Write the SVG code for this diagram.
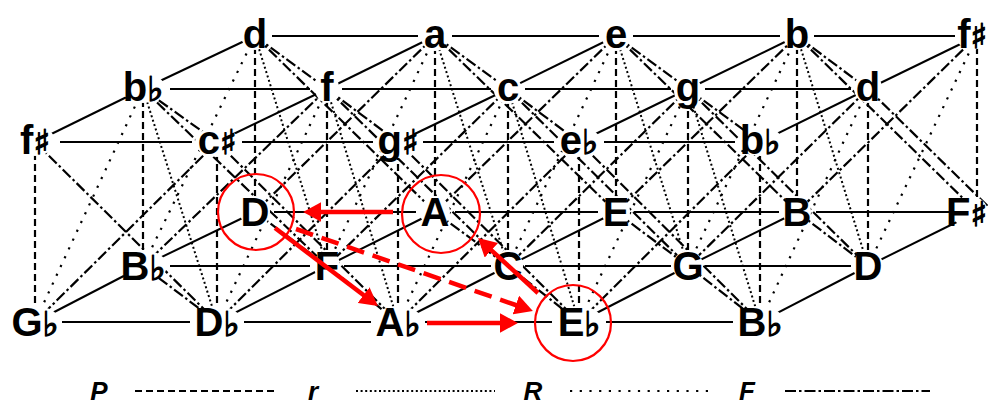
<svg xmlns="http://www.w3.org/2000/svg" width="988" height="406" viewBox="0 0 988 406">
<defs>
<style>
line{stroke:#000;fill:none;stroke-width:2}
.s{stroke-width:2}
.f{stroke-dasharray:11 3 2.5 3;stroke-width:2.2}
.p{stroke-dasharray:7 4;stroke-width:2.2}
.r{stroke-dasharray:2 2.6;stroke-width:2}
.R{stroke-dasharray:2.2 7.5;stroke-width:2.2}
.bg{fill:#fff}
.lab{font-family:"Liberation Sans","DejaVu Sans",sans-serif;font-weight:bold;font-size:40px;text-anchor:middle;fill:#000}
.end{text-anchor:end}
.acc{font-family:"DejaVu Sans",sans-serif;font-weight:bold;font-size:34px;fill:#000;stroke:#000;stroke-width:1.3}
.leg{font-family:"Liberation Sans","DejaVu Sans",sans-serif;font-weight:bold;font-style:italic;font-size:26px;text-anchor:middle;fill:#000}
line.ra{stroke:#f00;stroke-width:4.5;fill:none}
line.rd{stroke-dasharray:18 9}
.circ{stroke:#f00;fill:none;stroke-width:2.2}
</style>
<marker id="ah" markerWidth="4" markerHeight="4.4" refX="1.8" refY="2.2" orient="auto" markerUnits="strokeWidth">
<path d="M0,0 L4,2.2 L0,4.4 z" fill="#f00"/>
</marker>
</defs>
<rect width="988" height="406" fill="#fff"/>
<g id="connectors">
<g id="horizontal">
<line class="s" x1="272" y1="36" x2="418" y2="36"/>
<line class="s" x1="452" y1="36" x2="599" y2="36"/>
<line class="s" x1="633" y1="36" x2="780" y2="36"/>
<line class="s" x1="814" y1="36" x2="955" y2="36"/>
<line class="s" x1="170" y1="89" x2="310" y2="89"/>
<line class="s" x1="342" y1="89" x2="491" y2="89"/>
<line class="s" x1="525" y1="89" x2="671" y2="89"/>
<line class="s" x1="705" y1="89" x2="851" y2="89"/>
<line class="s" x1="60" y1="142" x2="192" y2="142"/>
<line class="s" x1="242" y1="142" x2="373" y2="142"/>
<line class="s" x1="423" y1="142" x2="554" y2="142"/>
<line class="s" x1="604" y1="142" x2="735" y2="142"/>
<line class="s" x1="274" y1="212" x2="416" y2="212"/>
<line class="s" x1="455" y1="212" x2="598" y2="212"/>
<line class="s" x1="634" y1="212" x2="779" y2="212"/>
<line class="s" x1="816" y1="212" x2="955" y2="212"/>
<line class="s" x1="170" y1="266" x2="310" y2="266"/>
<line class="s" x1="344" y1="266" x2="491" y2="266"/>
<line class="s" x1="525" y1="266" x2="671" y2="266"/>
<line class="s" x1="705" y1="266" x2="851" y2="266"/>
<line class="s" x1="62" y1="322" x2="190" y2="322"/>
<line class="s" x1="244" y1="322" x2="371" y2="322"/>
<line class="s" x1="425" y1="322" x2="552" y2="322"/>
<line class="s" x1="606" y1="322" x2="733" y2="322"/>
</g>
<g id="major-thirds">
<line class="s" x1="143" y1="89" x2="255" y2="36"/>
<line class="s" x1="327" y1="89" x2="435" y2="36"/>
<line class="s" x1="508" y1="89" x2="616" y2="36"/>
<line class="s" x1="688" y1="89" x2="797" y2="36"/>
<line class="s" x1="868" y1="89" x2="977" y2="36"/>
<line class="s" x1="35" y1="142" x2="143" y2="89"/>
<line class="s" x1="217" y1="142" x2="327" y2="89"/>
<line class="s" x1="398" y1="142" x2="508" y2="89"/>
<line class="s" x1="579" y1="142" x2="688" y2="89"/>
<line class="s" x1="760" y1="142" x2="868" y2="89"/>
<line class="s" x1="143" y1="266" x2="255" y2="212"/>
<line class="s" x1="327" y1="266" x2="435" y2="212"/>
<line class="s" x1="508" y1="266" x2="616" y2="212"/>
<line class="s" x1="688" y1="266" x2="797" y2="212"/>
<line class="s" x1="868" y1="266" x2="977" y2="212"/>
<line class="s" x1="35" y1="322" x2="143" y2="266"/>
<line class="s" x1="217" y1="322" x2="327" y2="266"/>
<line class="s" x1="398" y1="322" x2="508" y2="266"/>
<line class="s" x1="579" y1="322" x2="688" y2="266"/>
<line class="s" x1="760" y1="322" x2="868" y2="266"/>
</g>
<g id="minor-thirds">
<line class="f" x1="255" y1="36" x2="327" y2="89"/>
<line class="f" x1="435" y1="36" x2="508" y2="89"/>
<line class="f" x1="616" y1="36" x2="688" y2="89"/>
<line class="f" x1="797" y1="36" x2="868" y2="89"/>
<line class="f" x1="143" y1="89" x2="217" y2="142"/>
<line class="f" x1="327" y1="89" x2="398" y2="142"/>
<line class="f" x1="508" y1="89" x2="579" y2="142"/>
<line class="f" x1="688" y1="89" x2="760" y2="142"/>
<line class="f" x1="255" y1="212" x2="327" y2="266"/>
<line class="f" x1="435" y1="212" x2="508" y2="266"/>
<line class="f" x1="616" y1="212" x2="688" y2="266"/>
<line class="f" x1="797" y1="212" x2="868" y2="266"/>
<line class="f" x1="143" y1="266" x2="217" y2="322"/>
<line class="f" x1="327" y1="266" x2="398" y2="322"/>
<line class="f" x1="508" y1="266" x2="579" y2="322"/>
<line class="f" x1="688" y1="266" x2="760" y2="322"/>
</g>
<g id="F-relations">
<line class="f" x1="255" y1="36" x2="435" y2="212"/>
<line class="f" x1="435" y1="36" x2="255" y2="212"/>
<line class="f" x1="435" y1="36" x2="616" y2="212"/>
<line class="f" x1="616" y1="36" x2="435" y2="212"/>
<line class="f" x1="616" y1="36" x2="797" y2="212"/>
<line class="f" x1="797" y1="36" x2="616" y2="212"/>
<line class="f" x1="797" y1="36" x2="977" y2="212"/>
<line class="f" x1="977" y1="36" x2="797" y2="212"/>
<line class="f" x1="143" y1="89" x2="327" y2="266"/>
<line class="f" x1="327" y1="89" x2="143" y2="266"/>
<line class="f" x1="327" y1="89" x2="508" y2="266"/>
<line class="f" x1="508" y1="89" x2="327" y2="266"/>
<line class="f" x1="508" y1="89" x2="688" y2="266"/>
<line class="f" x1="688" y1="89" x2="508" y2="266"/>
<line class="f" x1="688" y1="89" x2="868" y2="266"/>
<line class="f" x1="868" y1="89" x2="688" y2="266"/>
<line class="f" x1="868" y1="89" x2="1049" y2="266"/>
<line class="f" x1="35" y1="142" x2="217" y2="322"/>
<line class="f" x1="217" y1="142" x2="35" y2="322"/>
<line class="f" x1="217" y1="142" x2="398" y2="322"/>
<line class="f" x1="398" y1="142" x2="217" y2="322"/>
<line class="f" x1="398" y1="142" x2="579" y2="322"/>
<line class="f" x1="579" y1="142" x2="398" y2="322"/>
<line class="f" x1="579" y1="142" x2="760" y2="322"/>
<line class="f" x1="760" y1="142" x2="579" y2="322"/>
</g>
<g id="P-relations">
<line class="p" x1="255" y1="36" x2="255" y2="212"/>
<line class="p" x1="435" y1="36" x2="435" y2="212"/>
<line class="p" x1="616" y1="36" x2="616" y2="212"/>
<line class="p" x1="797" y1="36" x2="797" y2="212"/>
<line class="p" x1="977" y1="36" x2="977" y2="212"/>
<line class="p" x1="143" y1="89" x2="143" y2="266"/>
<line class="p" x1="327" y1="89" x2="327" y2="266"/>
<line class="p" x1="508" y1="89" x2="508" y2="266"/>
<line class="p" x1="688" y1="89" x2="688" y2="266"/>
<line class="p" x1="868" y1="89" x2="868" y2="266"/>
<line class="p" x1="35" y1="142" x2="35" y2="322"/>
<line class="p" x1="217" y1="142" x2="217" y2="322"/>
<line class="p" x1="398" y1="142" x2="398" y2="322"/>
<line class="p" x1="579" y1="142" x2="579" y2="322"/>
<line class="p" x1="760" y1="142" x2="760" y2="322"/>
</g>
<g id="r-relations">
<line class="r" x1="255" y1="36" x2="327" y2="266"/>
<line class="r" x1="435" y1="36" x2="508" y2="266"/>
<line class="r" x1="616" y1="36" x2="688" y2="266"/>
<line class="r" x1="797" y1="36" x2="868" y2="266"/>
<line class="r" x1="143" y1="89" x2="217" y2="322"/>
<line class="r" x1="327" y1="89" x2="398" y2="322"/>
<line class="r" x1="508" y1="89" x2="579" y2="322"/>
<line class="r" x1="688" y1="89" x2="760" y2="322"/>
</g>
<g id="R-relations">
<line class="R" x1="255" y1="36" x2="143" y2="266"/>
<line class="R" x1="435" y1="36" x2="327" y2="266"/>
<line class="R" x1="616" y1="36" x2="508" y2="266"/>
<line class="R" x1="797" y1="36" x2="688" y2="266"/>
<line class="R" x1="977" y1="36" x2="868" y2="266"/>
<line class="R" x1="143" y1="89" x2="35" y2="322"/>
<line class="R" x1="327" y1="89" x2="217" y2="322"/>
<line class="R" x1="508" y1="89" x2="398" y2="322"/>
<line class="R" x1="688" y1="89" x2="579" y2="322"/>
<line class="R" x1="868" y1="89" x2="760" y2="322"/>
</g>
</g>
<g id="nodes">
<g id="n-d1"><ellipse class="bg" cx="255" cy="35" rx="14" ry="15"/><text class="lab" x="255" y="48">d</text></g>
<g id="n-a1"><ellipse class="bg" cx="435" cy="37" rx="14" ry="14"/><text class="lab" x="435" y="48">a</text></g>
<g id="n-e1"><ellipse class="bg" cx="616" cy="37" rx="14" ry="14"/><text class="lab" x="616" y="48">e</text></g>
<g id="n-b1"><ellipse class="bg" cx="797" cy="35" rx="14" ry="15"/><text class="lab" x="797" y="48">b</text></g>
<g id="n-fs1"><ellipse class="bg" cx="972" cy="35" rx="16" ry="15"/><text class="lab end" x="987" y="48">f<tspan class="acc">♯</tspan></text></g>
<g id="n-bb2"><ellipse class="bg" cx="143" cy="88" rx="22" ry="15"/><text class="lab" x="143" y="101">b<tspan class="acc">♭</tspan></text></g>
<g id="n-f2"><ellipse class="bg" cx="327" cy="88" rx="12" ry="15"/><text class="lab" x="327" y="101">f</text></g>
<g id="n-c2"><ellipse class="bg" cx="508" cy="90" rx="14" ry="14"/><text class="lab" x="508" y="101">c</text></g>
<g id="n-g2"><ellipse class="bg" cx="688" cy="91" rx="14" ry="15"/><text class="lab" x="688" y="101">g</text></g>
<g id="n-d2"><ellipse class="bg" cx="868" cy="88" rx="14" ry="15"/><text class="lab" x="868" y="101">d</text></g>
<g id="n-fs3"><ellipse class="bg" cx="35" cy="141" rx="20" ry="15"/><text class="lab" x="35" y="154">f<tspan class="acc">♯</tspan></text></g>
<g id="n-cs3"><ellipse class="bg" cx="217" cy="142" rx="22" ry="15"/><text class="lab" x="217" y="154">c<tspan class="acc">♯</tspan></text></g>
<g id="n-gs3"><ellipse class="bg" cx="398" cy="143" rx="22" ry="15"/><text class="lab" x="398" y="154">g<tspan class="acc">♯</tspan></text></g>
<g id="n-eb3"><ellipse class="bg" cx="579" cy="142" rx="22" ry="15"/><text class="lab" x="579" y="154">e<tspan class="acc">♭</tspan></text></g>
<g id="n-bb3"><ellipse class="bg" cx="760" cy="141" rx="22" ry="15"/><text class="lab" x="760" y="154">b<tspan class="acc">♭</tspan></text></g>
<g id="n-D4"><ellipse class="bg" cx="255" cy="212" rx="15" ry="16"/><text class="lab" x="255" y="226">D</text></g>
<g id="n-A4"><ellipse class="bg" cx="435" cy="212" rx="15" ry="16"/><text class="lab" x="435" y="226">A</text></g>
<g id="n-E4"><ellipse class="bg" cx="616" cy="212" rx="14" ry="16"/><text class="lab" x="616" y="226">E</text></g>
<g id="n-B4"><ellipse class="bg" cx="797" cy="212" rx="14" ry="16"/><text class="lab" x="797" y="226">B</text></g>
<g id="n-Fs4"><ellipse class="bg" cx="970" cy="212" rx="18" ry="16"/><text class="lab end" x="987" y="226">F<tspan class="acc">♯</tspan></text></g>
<g id="n-Bb5"><ellipse class="bg" cx="143" cy="266" rx="24" ry="16"/><text class="lab" x="143" y="280">B<tspan class="acc">♭</tspan></text></g>
<g id="n-F5"><ellipse class="bg" cx="327" cy="266" rx="13" ry="16"/><text class="lab" x="327" y="280">F</text></g>
<g id="n-C5"><ellipse class="bg" cx="508" cy="266" rx="15" ry="16"/><text class="lab" x="508" y="280">C</text></g>
<g id="n-G5"><ellipse class="bg" cx="688" cy="266" rx="15" ry="16"/><text class="lab" x="688" y="280">G</text></g>
<g id="n-D5"><ellipse class="bg" cx="868" cy="266" rx="15" ry="16"/><text class="lab" x="868" y="280">D</text></g>
<g id="n-Gb6"><ellipse class="bg" cx="35" cy="322" rx="25" ry="16"/><text class="lab" x="35" y="336">G<tspan class="acc">♭</tspan></text></g>
<g id="n-Db6"><ellipse class="bg" cx="217" cy="322" rx="25" ry="16"/><text class="lab" x="217" y="336">D<tspan class="acc">♭</tspan></text></g>
<g id="n-Ab6"><ellipse class="bg" cx="398" cy="322" rx="25" ry="16"/><text class="lab" x="398" y="336">A<tspan class="acc">♭</tspan></text></g>
<g id="n-Eb6"><ellipse class="bg" cx="579" cy="322" rx="24" ry="16"/><text class="lab" x="579" y="336">E<tspan class="acc">♭</tspan></text></g>
<g id="n-Bb6"><ellipse class="bg" cx="760" cy="322" rx="24" ry="16"/><text class="lab" x="760" y="336">B<tspan class="acc">♭</tspan></text></g>
</g>
<g id="highlights">
<circle class="circ" cx="256" cy="212" r="38"/>
<circle class="circ" cx="441" cy="214" r="39"/>
<circle class="circ" cx="573" cy="323" r="38"/>
<line class="ra" x1="393" y1="212" x2="313" y2="212" marker-end="url(#ah)"/>
<line class="ra" x1="275" y1="228" x2="370" y2="300" marker-end="url(#ah)"/>
<line class="ra rd" x1="296" y1="229" x2="523.5" y2="307.7" marker-end="url(#ah)"/>
<line class="ra" x1="427" y1="323" x2="508" y2="323" marker-end="url(#ah)"/>
<line class="ra" x1="538" y1="293" x2="485.4" y2="244.8" marker-end="url(#ah)"/>
</g>
<g id="legend">
<text class="leg" x="99" y="400">P</text>
<line class="p" x1="135" y1="391" x2="277" y2="391"/>
<text class="leg" x="313" y="400">r</text>
<line class="r" x1="356" y1="391" x2="495" y2="391"/>
<text class="leg" x="533" y="400">R</text>
<line class="R" x1="570" y1="391" x2="715" y2="391"/>
<text class="leg" x="747" y="400">F</text>
<line class="f" x1="785" y1="391" x2="930" y2="391"/>
</g>
</svg>
